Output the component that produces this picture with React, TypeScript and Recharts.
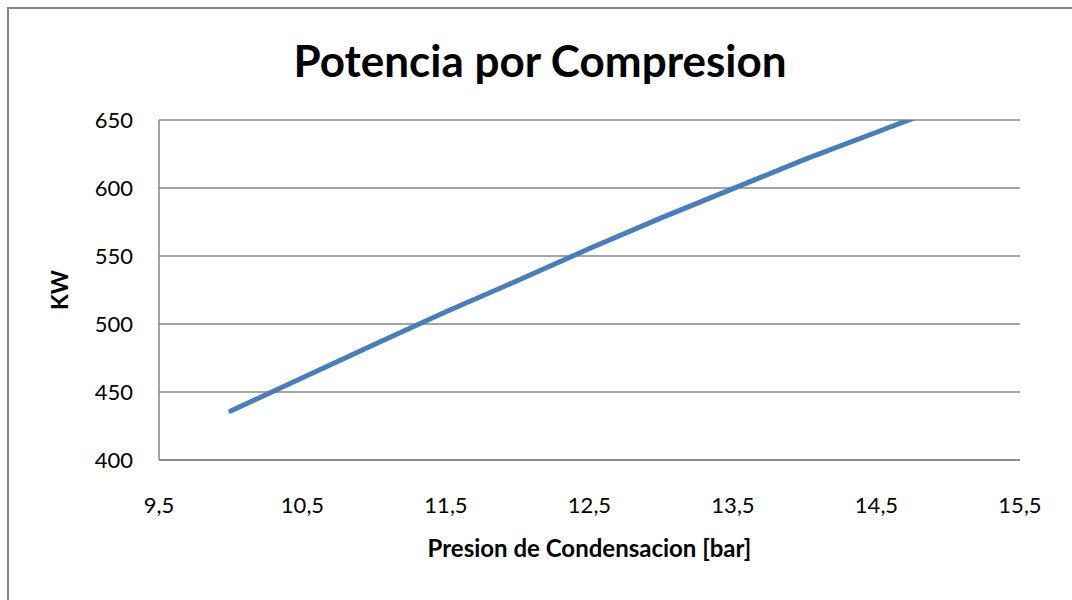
import { LineChart, Line, XAxis, YAxis, CartesianGrid } from "recharts";

// Presion de condensacion [bar] vs potencia de compresion [KW]
const presion = [10, 10.5, 11, 11.5, 12, 12.5, 13, 13.5, 14, 14.5, 15];
const potencia = [436, 460.5, 485, 509, 532, 555.5, 578, 599.5, 621, 641, 661];

const xTicks = [9.5, 10.5, 11.5, 12.5, 13.5, 14.5, 15.5];
const yTicks = [400, 450, 500, 550, 600, 650];

const data = presion.map((p, i) => ({ presion: p, potencia: potencia[i] }));

const FONT = "Lato, 'Open Sans', sans-serif";
const GRAY = "#868686";

const fmtComma = (v: number) => String(v).replace(".", ",");

const KwLabel = ({ viewBox }: any) => {
  const x = viewBox.x + 59;
  const y = viewBox.y + viewBox.height / 2;
  return (
    <text
      x={x}
      y={y}
      transform={`rotate(-90 ${x} ${y})`}
      textAnchor="middle"
      dominantBaseline="central"
      fontFamily={FONT}
      fontWeight="bold"
      fontSize={23}
      fill="#000"
    >
      KW
    </text>
  );
};

export default function App() {
  return (
    <div
      style={{
        position: "absolute",
        left: 0,
        top: 0,
        width: 1072,
        height: 600,
        overflow: "hidden",
        background: "#fff",
      }}
    >
      {/* chart frame: top and left edges */}
      <div
        style={{
          position: "absolute",
          left: 7,
          top: 7,
          width: 1065,
          height: 2,
          background: GRAY,
        }}
      />
      <div
        style={{
          position: "absolute",
          left: 7,
          top: 7,
          width: 2,
          height: 593,
          background: GRAY,
        }}
      />
      <div
        style={{
          position: "absolute",
          left: 0,
          top: 34,
          width: 1080,
          textAlign: "center",
          fontFamily: FONT,
          fontWeight: "bold",
          fontSize: 44,
          lineHeight: "52px",
          color: "#000",
        }}
      >
        Potencia por Compresion
      </div>
      <div style={{ position: "absolute", left: 0, top: 0 }}>
        <LineChart
          width={1072}
          height={600}
          data={data}
          margin={{ top: 120, right: 52, bottom: 0, left: 0 }}
        >
          <CartesianGrid vertical={false} stroke={GRAY} strokeWidth={1.5} />
          <XAxis
            dataKey="presion"
            type="number"
            domain={[9.5, 15.5]}
            ticks={xTicks}
            tickFormatter={fmtComma}
            tickLine={false}
            axisLine={{ stroke: GRAY, strokeWidth: 1.5 }}
            tickMargin={31}
            height={140}
            tick={{ fill: "#000", fontFamily: FONT, fontSize: 22 }}
            label={{
              value: "Presion de Condensacion [bar]",
              position: "insideTop",
              offset: 80,
              fill: "#000",
              fontFamily: FONT,
              fontWeight: "bold",
              fontSize: 24,
            }}
          />
          <YAxis
            type="number"
            domain={[400, 650]}
            ticks={yTicks}
            allowDataOverflow
            tickLine={false}
            axisLine={{ stroke: GRAY, strokeWidth: 1.5 }}
            tickMargin={20}
            width={159}
            tick={{ fill: "#000", fontFamily: FONT, fontSize: 22 }}
            label={<KwLabel />}
          />
          <Line
            type="linear"
            dataKey="potencia"
            stroke="#4a7ebb"
            strokeWidth={5}
            strokeLinecap="round"
            dot={false}
            isAnimationActive={false}
          />
        </LineChart>
      </div>
    </div>
  );
}
